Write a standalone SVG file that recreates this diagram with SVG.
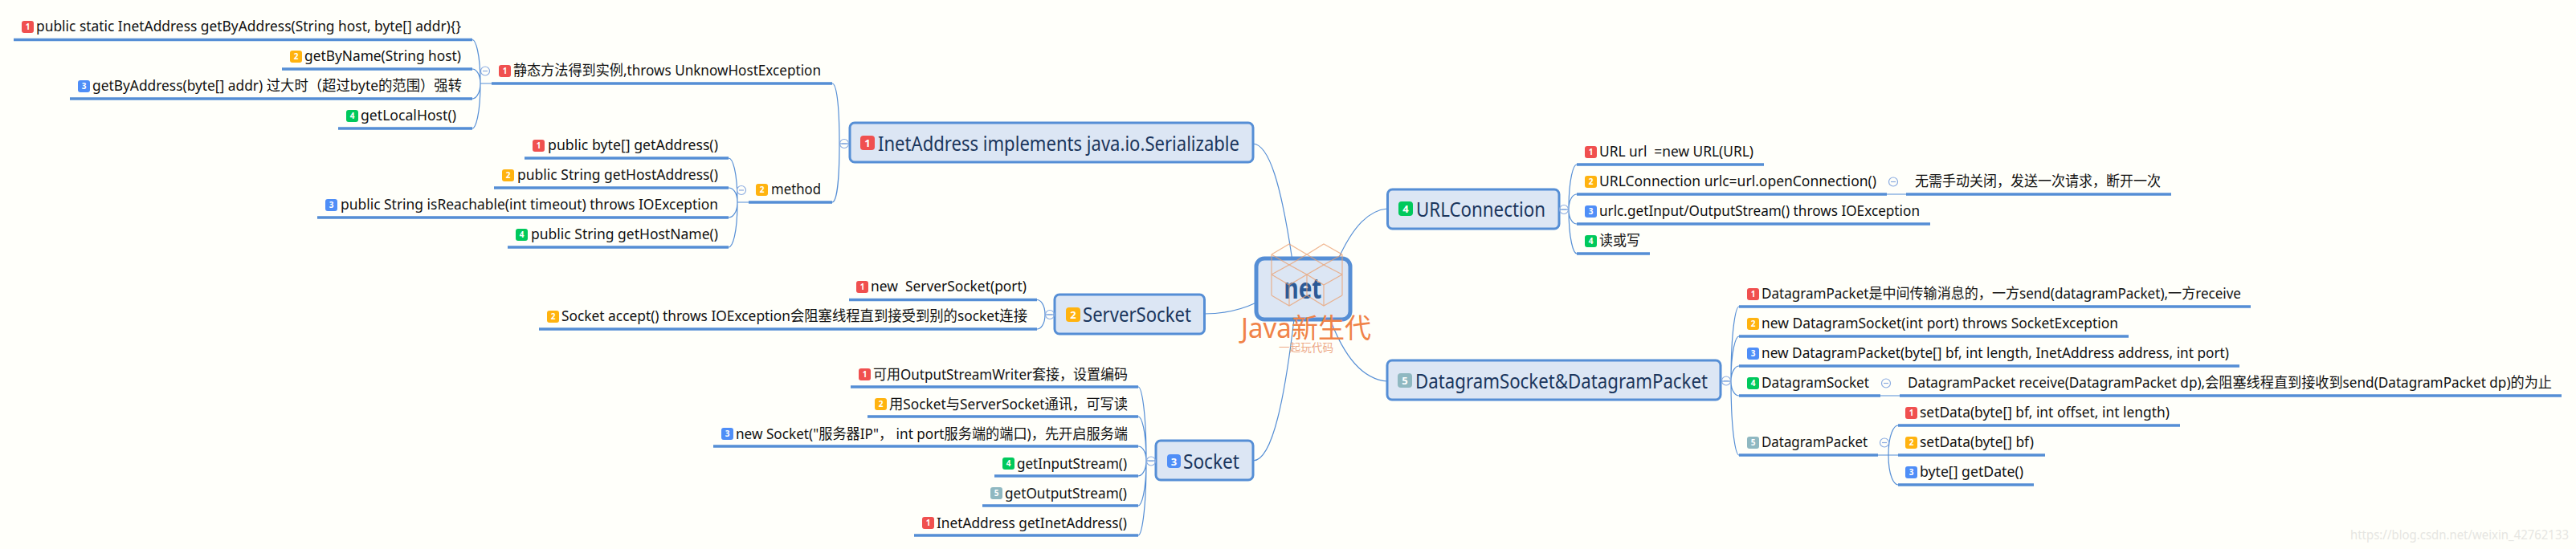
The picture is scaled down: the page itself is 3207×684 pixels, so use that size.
<svg xmlns="http://www.w3.org/2000/svg" width="3207" height="684" viewBox="0 0 3207 684">
<style>
text{font-family:"Noto Sans","Noto Sans CJK SC",sans-serif;white-space:pre}
.t{font-size:18px;fill:#111}
.h{font-size:26px;fill:#1b365d}
.n{font-size:10px;font-weight:700;fill:#fff;text-anchor:middle}
.N{font-size:13px;font-weight:700;fill:#fff;text-anchor:middle}
.r{fill:#f0504f}.o{fill:#ffb30f}.b{fill:#4f8ef7}.g{fill:#00c95c}.s{fill:#8fb8c1}
.u{stroke:#558ed5;stroke-width:3.5;fill:none}
.c{stroke:#558ed5;stroke-width:1.2;fill:none}
.box{fill:#dce6f4;stroke:#558ed5;stroke-width:3}
.m{fill:none;stroke:#8aabe0;stroke-width:1.2}
.logo{fill:none;stroke:#eb9f6e;stroke-width:1.2;opacity:.75}
</style>
<defs>
<g id="minus"><circle r="5.5" class="m"/><path d="M-3,0H3" class="m"/></g>
</defs>
<rect width="3207" height="684" fill="#fffffa"/>
<g id="connectors">
<path class="c" d="M598,104C598,66 592,49.5 588,49.5M598,104C598,91 592,86 588,86M598,104C598,117 592,123 588,123M598,104C598,143 592,160 588,160M598,104H612"/>
<path class="c" d="M918,252C918,213 912,197 907,197M918,252C918,239 912,234 907,234M918,252C918,265 912,271 907,271M918,252C918,291 912,308 907,308M918,252H932"/>
<path class="c" d="M1045,179C1045,127 1041,104 1036,104M1045,179C1045,230 1041,252 1036,252M1045,179H1058"/>
<path class="c" d="M1301,392C1301,379 1295,373.500 1291,373.500M1301,392C1301,405 1295,410 1291,410M1301,392H1313"/>
<path class="c" d="M1427,574C1427,510 1421,482 1417,482M1427,574C1427,535 1421,519 1417,519M1427,574C1427,561 1421,556 1417,556M1427,574C1427,587 1421,593 1417,593M1427,574C1427,613 1421,630 1417,630M1427,574C1427,639 1421,667 1417,667M1427,574H1439"/>
<path class="c" d="M1953,261C1953,222 1959,205 1963,205M1953,261C1953,247 1959,242 1963,242M1953,261C1953,274 1959,279 1963,279M1953,261C1953,299 1959,316 1963,316M1941,261H1953"/>
<path class="c" d="M2155,475C2155,410 2161,382 2165,382M2155,475C2155,436 2161,419 2165,419M2155,475C2155,462 2161,456 2165,456M2155,475C2155,488 2161,493 2165,493M2155,475C2155,539 2161,567 2165,567M2142,475H2155"/>
<path class="c" d="M2351,567C2351,541 2358,530 2363,530M2351,567C2351,593 2358,604 2363,604M2338,567H2363"/>
<path class="c" d="M2349,242H2373M2341,493H2365"/>
<path class="c" d="M1560,179C1580,180 1595,230 1609,325"/>
<path class="c" d="M1499,391C1525,391 1545,386 1564,377"/>
<path class="c" d="M1560,574C1585,574 1600,490 1611,398"/>
<path class="c" d="M1727,260C1705,262 1685,280 1665,325"/>
<path class="c" d="M1727,475C1700,473 1675,450 1655,395"/>
</g>
<g id="leaf-byaddress-host"><path class="u" d="M17,49.5H588"/><rect class="r" x="27" y="26" width="15" height="15" rx="3"/><text class="n" x="34.500" y="37">1</text><text class="t" x="45" y="39" textLength="529" lengthAdjust="spacingAndGlyphs">public static InetAddress getByAddress(String host, byte[] addr){}</text></g>
<g id="leaf-byname"><path class="u" d="M351,86H588"/><rect class="o" x="361" y="63" width="15" height="15" rx="3"/><text class="n" x="368.500" y="74">2</text><text class="t" x="379" y="76" textLength="195" lengthAdjust="spacingAndGlyphs">getByName(String host)</text></g>
<g id="leaf-byaddress"><path class="u" d="M87,123H588"/><rect class="b" x="97" y="100" width="15" height="15" rx="3"/><text class="n" x="104.500" y="111">3</text><text class="t" x="115" y="113" textLength="460" lengthAdjust="spacingAndGlyphs">getByAddress(byte[] addr) 过大时（超过byte的范围）强转</text></g>
<g id="leaf-localhost"><path class="u" d="M421,160H588"/><rect class="g" x="431" y="137" width="15" height="15" rx="3"/><text class="n" x="438.500" y="148">4</text><text class="t" x="449" y="150" textLength="119" lengthAdjust="spacingAndGlyphs">getLocalHost()</text></g>
<g id="static-methods"><path class="u" d="M612,104H1036"/><use href="#minus" x="604" y="88.500"/><rect class="r" x="621" y="81" width="15" height="15" rx="3"/><text class="n" x="628.500" y="92">1</text><text class="t" x="639" y="94" textLength="383" lengthAdjust="spacingAndGlyphs">静态方法得到实例,throws UnknowHostException</text></g>
<g id="leaf-getaddress"><path class="u" d="M653,197H907"/><rect class="r" x="663" y="174" width="15" height="15" rx="3"/><text class="n" x="670.500" y="185">1</text><text class="t" x="682" y="187" textLength="212" lengthAdjust="spacingAndGlyphs">public byte[] getAddress()</text></g>
<g id="leaf-gethostaddress"><path class="u" d="M615,234H907"/><rect class="o" x="625" y="211" width="15" height="15" rx="3"/><text class="n" x="632.500" y="222">2</text><text class="t" x="644" y="224" textLength="250" lengthAdjust="spacingAndGlyphs">public String getHostAddress()</text></g>
<g id="leaf-isreachable"><path class="u" d="M395,271H907"/><rect class="b" x="405" y="248" width="15" height="15" rx="3"/><text class="n" x="412.500" y="259">3</text><text class="t" x="424" y="261" textLength="470" lengthAdjust="spacingAndGlyphs">public String isReachable(int timeout) throws IOException</text></g>
<g id="leaf-gethostname"><path class="u" d="M632,308H907"/><rect class="g" x="642" y="285" width="15" height="15" rx="3"/><text class="n" x="649.500" y="296">4</text><text class="t" x="661" y="298" textLength="233" lengthAdjust="spacingAndGlyphs">public String getHostName()</text></g>
<g id="method"><path class="u" d="M932,252H1036"/><use href="#minus" x="923" y="237"/><rect class="o" x="941" y="229" width="15" height="15" rx="3"/><text class="n" x="948.500" y="240">2</text><text class="t" x="960" y="242" textLength="62" lengthAdjust="spacingAndGlyphs">method</text></g>
<g id="inetaddress"><rect class="box" x="1058" y="153" width="502" height="49" rx="6"/><use href="#minus" x="1051" y="179"/><rect class="r" x="1071" y="169" width="18" height="18" rx="4"/><text class="N" x="1080" y="183">1</text><text class="h" x="1093" y="188" textLength="450" lengthAdjust="spacingAndGlyphs">InetAddress implements java.io.Serializable</text></g>
<g id="leaf-new-serversocket"><path class="u" d="M1057,373.500H1291"/><rect class="r" x="1066" y="350" width="15" height="15" rx="3"/><text class="n" x="1073.500" y="361">1</text><text class="t" x="1084" y="363" textLength="194" lengthAdjust="spacingAndGlyphs">new  ServerSocket(port)</text></g>
<g id="leaf-accept"><path class="u" d="M671,410H1291"/><rect class="o" x="681" y="387" width="15" height="15" rx="3"/><text class="n" x="688.500" y="398">2</text><text class="t" x="699" y="400" textLength="580" lengthAdjust="spacingAndGlyphs">Socket accept() throws IOException会阻塞线程直到接受到别的socket连接</text></g>
<g id="serversocket"><rect class="box" x="1313" y="367" width="186.500" height="49" rx="6"/><use href="#minus" x="1307" y="392"/><rect class="o" x="1327" y="383" width="18" height="18" rx="4"/><text class="N" x="1336" y="397">2</text><text class="h" x="1348" y="401" textLength="135" lengthAdjust="spacingAndGlyphs">ServerSocket</text></g>
<g id="leaf-writer"><path class="u" d="M1059,482H1417"/><rect class="r" x="1069" y="459" width="15" height="15" rx="3"/><text class="n" x="1076.500" y="470">1</text><text class="t" x="1087" y="473" textLength="317" lengthAdjust="spacingAndGlyphs">可用OutputStreamWriter套接，设置编码</text></g>
<g id="leaf-comm"><path class="u" d="M1080,519H1417"/><rect class="o" x="1089" y="496" width="15" height="15" rx="3"/><text class="n" x="1096.500" y="507">2</text><text class="t" x="1107" y="510" textLength="297" lengthAdjust="spacingAndGlyphs">用Socket与ServerSocket通讯，可写读</text></g>
<g id="leaf-new-socket"><path class="u" d="M888,556H1417"/><rect class="b" x="898" y="533" width="15" height="15" rx="3"/><text class="n" x="905.500" y="544">3</text><text class="t" x="916" y="547" textLength="488" lengthAdjust="spacingAndGlyphs">new Socket("服务器IP"， int port服务端的端口)，先开启服务端</text></g>
<g id="leaf-input"><path class="u" d="M1238,593H1417"/><rect class="g" x="1248" y="570" width="15" height="15" rx="3"/><text class="n" x="1255.500" y="581">4</text><text class="t" x="1266" y="584" textLength="137" lengthAdjust="spacingAndGlyphs">getInputStream()</text></g>
<g id="leaf-output"><path class="u" d="M1223,630H1417"/><rect class="s" x="1233" y="607" width="15" height="15" rx="3"/><text class="n" x="1240.500" y="618">5</text><text class="t" x="1251" y="621" textLength="152" lengthAdjust="spacingAndGlyphs">getOutputStream()</text></g>
<g id="leaf-inet"><path class="u" d="M1138,667H1417"/><rect class="r" x="1148" y="644" width="15" height="15" rx="3"/><text class="n" x="1155.500" y="655">1</text><text class="t" x="1166" y="658" textLength="237" lengthAdjust="spacingAndGlyphs">InetAddress getInetAddress()</text></g>
<g id="socket"><rect class="box" x="1439" y="549" width="121" height="49" rx="6"/><use href="#minus" x="1433" y="574.500"/><rect class="b" x="1453" y="566" width="17" height="17" rx="4"/><text class="N" x="1461.500" y="579.500">3</text><text class="h" x="1473" y="584" textLength="70" lengthAdjust="spacingAndGlyphs">Socket</text></g>
<g id="leaf-url"><path class="u" d="M1963,205H2196"/><rect class="r" x="1973" y="182" width="15" height="15" rx="3"/><text class="n" x="1980.500" y="193">1</text><text class="t" x="1991" y="195" textLength="192" lengthAdjust="spacingAndGlyphs">URL url  =new URL(URL)</text></g>
<g id="leaf-open"><path class="u" d="M1963,242H2349"/><rect class="o" x="1973" y="219" width="15" height="15" rx="3"/><text class="n" x="1980.500" y="230">2</text><text class="t" x="1991" y="232" textLength="345" lengthAdjust="spacingAndGlyphs">URLConnection urlc=url.openConnection()</text><use href="#minus" x="2357" y="226.500"/></g>
<g id="leaf-open-note"><path class="u" d="M2373,242H2703"/><text class="t" x="2384" y="232" textLength="306" lengthAdjust="spacingAndGlyphs">无需手动关闭，发送一次请求，断开一次</text></g>
<g id="leaf-stream"><path class="u" d="M1963,279H2403"/><rect class="b" x="1973" y="256" width="15" height="15" rx="3"/><text class="n" x="1980.500" y="267">3</text><text class="t" x="1991" y="269" textLength="399" lengthAdjust="spacingAndGlyphs">urlc.getInput/OutputStream() throws IOException</text></g>
<g id="leaf-rw"><path class="u" d="M1963,316H2054"/><rect class="g" x="1973" y="293" width="15" height="15" rx="3"/><text class="n" x="1980.500" y="304">4</text><text class="t" x="1991" y="306" textLength="51" lengthAdjust="spacingAndGlyphs">读或写</text></g>
<g id="urlconnection"><rect class="box" x="1727.500" y="236" width="213.500" height="49" rx="6"/><use href="#minus" x="1947" y="261"/><rect class="g" x="1741" y="251" width="18" height="18" rx="4"/><text class="N" x="1750" y="265">4</text><text class="h" x="1763" y="270" textLength="161" lengthAdjust="spacingAndGlyphs">URLConnection</text></g>
<g id="leaf-dp"><path class="u" d="M2165,382H2802"/><rect class="r" x="2175" y="359" width="15" height="15" rx="3"/><text class="n" x="2182.500" y="370">1</text><text class="t" x="2193" y="372" textLength="597" lengthAdjust="spacingAndGlyphs">DatagramPacket是中间传输消息的，一方send(datagramPacket),一方receive</text></g>
<g id="leaf-ds-new"><path class="u" d="M2165,419H2650"/><rect class="o" x="2175" y="396" width="15" height="15" rx="3"/><text class="n" x="2182.500" y="407">2</text><text class="t" x="2193" y="409" textLength="444" lengthAdjust="spacingAndGlyphs">new DatagramSocket(int port) throws SocketException</text></g>
<g id="leaf-dp-new"><path class="u" d="M2165,456H2788"/><rect class="b" x="2175" y="433" width="15" height="15" rx="3"/><text class="n" x="2182.500" y="444">3</text><text class="t" x="2193" y="446" textLength="582" lengthAdjust="spacingAndGlyphs">new DatagramPacket(byte[] bf, int length, InetAddress address, int port)</text></g>
<g id="leaf-ds"><path class="u" d="M2165,493H2341"/><rect class="g" x="2175" y="470" width="15" height="15" rx="3"/><text class="n" x="2182.500" y="481">4</text><text class="t" x="2193" y="483" textLength="134" lengthAdjust="spacingAndGlyphs">DatagramSocket</text><use href="#minus" x="2348" y="477.500"/></g>
<g id="leaf-ds-note"><path class="u" d="M2365,493H3189"/><text class="t" x="2375" y="483" textLength="802" lengthAdjust="spacingAndGlyphs">DatagramPacket receive(DatagramPacket dp),会阻塞线程直到接收到send(DatagramPacket dp)的为止</text></g>
<g id="leaf-dpk"><path class="u" d="M2165,567H2338"/><rect class="s" x="2175" y="544" width="15" height="15" rx="3"/><text class="n" x="2182.500" y="555">5</text><text class="t" x="2193" y="557" textLength="132" lengthAdjust="spacingAndGlyphs">DatagramPacket</text><use href="#minus" x="2346" y="551.500"/></g>
<g id="leaf-setdata3"><path class="u" d="M2363,530H2714"/><rect class="r" x="2372" y="507" width="15" height="15" rx="3"/><text class="n" x="2379.500" y="518">1</text><text class="t" x="2390" y="520" textLength="311" lengthAdjust="spacingAndGlyphs">setData(byte[] bf, int offset, int length)</text></g>
<g id="leaf-setdata1"><path class="u" d="M2363,567H2546"/><rect class="o" x="2372" y="544" width="15" height="15" rx="3"/><text class="n" x="2379.500" y="555">2</text><text class="t" x="2390" y="557" textLength="142" lengthAdjust="spacingAndGlyphs">setData(byte[] bf)</text></g>
<g id="leaf-getdate"><path class="u" d="M2363,604H2532"/><rect class="b" x="2372" y="581" width="15" height="15" rx="3"/><text class="n" x="2379.500" y="592">3</text><text class="t" x="2390" y="594" textLength="129" lengthAdjust="spacingAndGlyphs">byte[] getDate()</text></g>
<g id="datagram"><rect class="box" x="1727" y="449" width="415" height="49" rx="6"/><use href="#minus" x="2149" y="474.500"/><rect class="s" x="1740" y="465" width="18" height="18" rx="4"/><text class="N" x="1749" y="479">5</text><text class="h" x="1762" y="484" textLength="364" lengthAdjust="spacingAndGlyphs">DatagramSocket&amp;DatagramPacket</text></g>
<g id="net"><rect x="1564" y="322" width="117" height="76" rx="10" fill="#dce6f4" stroke="#558ed5" stroke-width="5"/><text x="1622" y="372" font-size="36" font-weight="700" fill="#2c5a96" text-anchor="middle" textLength="47" lengthAdjust="spacingAndGlyphs">net</text></g>
<g id="watermark">
<path class="logo" d="M1583,317L1605,304L1627,317L1648,304L1671,317M1583,317L1605,330L1627,317L1648,330L1671,317M1583,342L1605,330L1627,342L1648,330L1671,342M1583,342L1605,355L1627,342L1648,355L1671,342M1583,368L1605,381L1627,368L1648,381L1671,368M1583,317V368M1671,317V368M1605,355V381M1648,355V381M1627,342V368"/>
<text x="1545" y="421" font-size="34" fill="#f08348" textLength="162" lengthAdjust="spacingAndGlyphs">Java新生代</text>
<text x="1592" y="438" font-size="13.500" fill="#eda987" textLength="68" lengthAdjust="spacingAndGlyphs">一起玩代码</text>
<text x="2926" y="672" font-size="17" fill="#e6e6e2" textLength="272" lengthAdjust="spacingAndGlyphs">https://blog.csdn.net/weixin_42762133</text>
</g>
</svg>
